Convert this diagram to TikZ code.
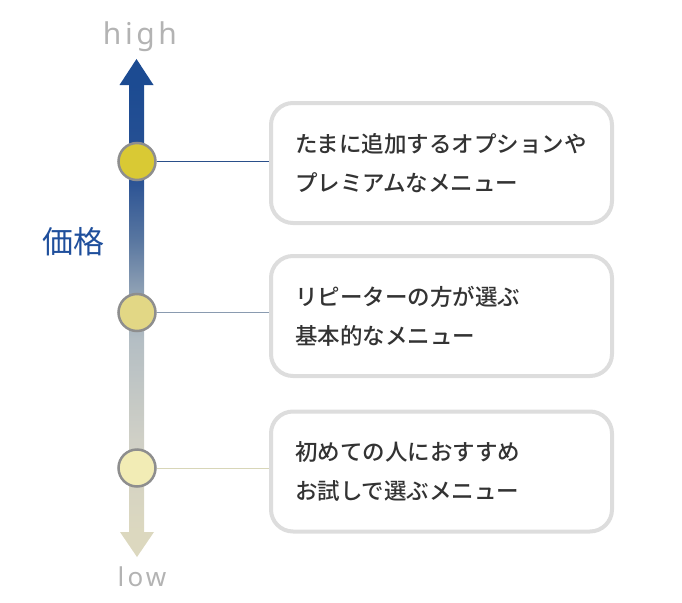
\documentclass[tikz,border=0pt]{standalone}
\usepackage{fontspec}
\setmainfont{Noto Sans}
\newfontfamily\jpfont{Noto Sans CJK JP}[UprightFont=* Medium]
\newfontfamily\jplight{Noto Sans CJK JP}
\newfontfamily\lblfont[LetterSpace=12]{Noto Sans}
\definecolor{cHigh}{HTML}{1C4B92}
\definecolor{c180}{HTML}{2A5294}
\definecolor{c240}{HTML}{5876A0}
\definecolor{c290}{HTML}{8EA0B4}
\definecolor{c340}{HTML}{B4BEC4}
\definecolor{c440}{HTML}{D0D0C6}
\definecolor{cLow}{HTML}{DCD8BF}
\definecolor{boxgray}{HTML}{DDDDDD}
\definecolor{txt}{HTML}{333333}
\definecolor{lblgray}{HTML}{B3B3B3}
\definecolor{pricecol}{HTML}{1F4F9C}
\definecolor{dot1}{HTML}{D9C934}
\definecolor{dot2}{HTML}{E2D785}
\definecolor{dot3}{HTML}{F2ECB5}
\definecolor{dotrim}{HTML}{8E8E8E}
\definecolor{ln1}{HTML}{2A4F8A}
\definecolor{ln2}{HTML}{8A9BB0}
\definecolor{ln3}{HTML}{D8D6B8}
\pgfdeclareverticalshading{axisgrad}{100bp}{color(0bp)=(cLow); color(25bp)=(cLow); color(35.3bp)=(c440); color(46.5bp)=(c340); color(52bp)=(c290); color(57.7bp)=(c240); color(64.4bp)=(c180); color(75bp)=(cHigh); color(100bp)=(cHigh)}
\begin{document}
\begin{tikzpicture}[x=1pt,y=-1pt,
  dot/.style={circle, draw=dotrim, line width=2.5pt, minimum size=37pt, inner sep=0pt},
  menubox/.style={draw=boxgray, line width=4pt, rounded corners=22pt, fill=white,
    minimum width=341pt, minimum height=120pt, text width=293pt, inner xsep=0pt,
    align=left, text=txt, font=\jpfont\fontsize{22.5}{39}\selectfont},
  conn/.style={line width=1pt}]
\useasboundingbox (0,0) rectangle (682,602);
% axis
\shade[shading=axisgrad] (129,84) rectangle (144,533);
\fill[cHigh] (136.5,59) -- (153.5,85) -- (119.5,85) -- cycle;
\fill[cLow] (137,557) -- (154,532) -- (120,532) -- cycle;
\node[anchor=base, text=lblgray, font=\lblfont\fontsize{30}{30}\selectfont, inner sep=0pt] (high) at (140,45) {high};
\node[anchor=base, text=lblgray, font=\lblfont\fontsize{26}{26}\selectfont, inner sep=0pt] (low) at (142,586) {low};
\node[text=pricecol, font=\jplight\fontsize{31}{31}\selectfont, inner sep=0pt] (price) at (73,242) {価格};
% boxes
\node[menubox] (b1) at (441.5,163) {たまに追加するオプションや\\プレミアムなメニュー};
\node[menubox] (b2) at (441.5,316) {リピーターの方が選ぶ\\基本的なメニュー};
\node[menubox] (b3) at (441.5,471.5) {初めての人におすすめ\\お試しで選ぶメニュー};
% dots
\node[dot, fill=dot1] (c1) at (137,161.5) {};
\node[dot, fill=dot2] (c2) at (137,312.5) {};
\node[dot, fill=dot3] (c3) at (137,468) {};
% connectors
\draw[conn, ln1] (c1.east) -- (c1.east -| b1.west);
\draw[conn, ln2] (c2.east) -- (c2.east -| b2.west);
\draw[conn, ln3] (c3.east) -- (c3.east -| b3.west);
\end{tikzpicture}
\end{document}
